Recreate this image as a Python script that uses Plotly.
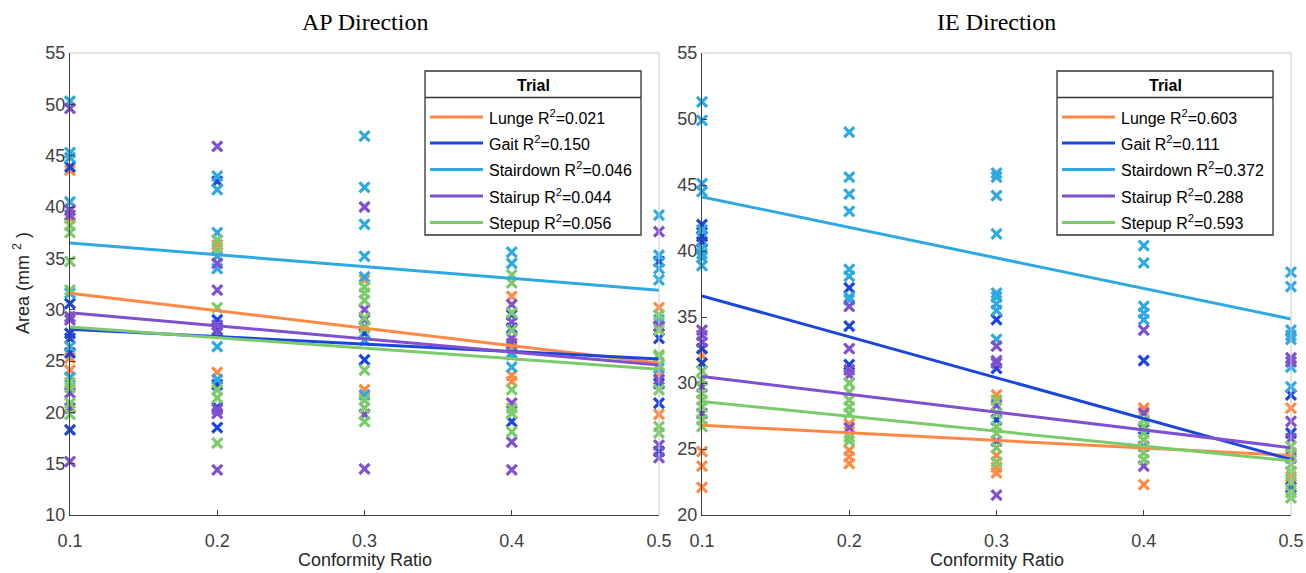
import plotly.graph_objects as go

W, H = 1306, 573

conformity = [0.1, 0.2, 0.3, 0.4, 0.5]
trials = ["Lunge", "Gait", "Stairdown", "Stairup", "Stepup"]
colors = ["#FF8A45", "#1B46DC", "#2EA9E2", "#7F50D0", "#7CCB6B"]

# AP direction: points per conformity level (0.1 .. 0.5)
ap_lunge = [[43.6, 38.9, 25.3, 24.1], [36.3, 23.9], [32.9, 22.2], [31.3, 26.2, 23.6, 23.0], [30.2, 23.8, 19.8]]
ap_gait = [[43.9, 30.6, 27.7, 27.2, 25.8, 18.3], [42.5, 29.0, 28.0, 22.7, 20.5, 18.5], [27.7, 25.1],
           [29.5, 28.2, 19.1], [34.7, 28.4, 27.2, 22.8, 20.9, 16.2]]
ap_stairdown = [[50.3, 45.3, 44.8, 40.5, 31.6, 26.4, 23.4], [43.0, 41.7, 37.5, 35.2, 34.0, 26.4, 23.2],
                [46.9, 41.9, 38.3, 35.2, 33.2, 27.0, 21.7], [35.6, 34.5, 25.8, 25.6, 24.4],
                [39.2, 35.3, 34.0, 32.9, 29.0, 24.3]]
ap_stairup = [[49.6, 39.7, 39.2, 29.3, 29.0, 21.9, 20.4, 15.2], [45.9, 34.5, 31.9, 28.5, 27.8, 20.3, 19.9, 14.4],
              [40.0, 30.0, 29.0, 28.3, 19.8, 14.5], [30.5, 28.8, 27.2, 26.7, 20.9, 17.1, 14.4],
              [37.6, 28.4, 23.2, 16.8, 15.6]]
ap_stepup = [[38.2, 37.5, 34.7, 31.9, 22.9, 22.4, 20.9, 19.8], [36.8, 35.8, 30.2, 22.2, 21.4, 17.0],
             [32.2, 31.6, 30.9, 29.2, 28.2, 24.1, 21.2, 20.4, 19.1], [33.4, 32.6, 29.7, 28.0, 22.2, 20.4, 19.9, 18.1],
             [29.5, 28.0, 25.6, 25.4, 24.6, 22.2, 18.6, 18.0]]
ap_fit_start = [31.6, 28.1, 36.5, 29.7, 28.3]
ap_fit_end = [24.8, 25.2, 31.9, 24.6, 24.2]
ap_r2 = ["0.021", "0.150", "0.046", "0.044", "0.056"]

# IE direction
ie_lunge = [[32.1, 24.8, 23.7, 22.1], [26.9, 24.9, 24.4, 23.9], [29.1, 24.5, 23.6, 23.2], [28.1, 27.8, 22.3],
            [28.1, 24.5, 22.9]]
ie_gait = [[42.0, 41.1, 40.7, 32.6, 31.5], [37.2, 34.3, 31.4], [34.8, 31.1, 27.2], [31.7, 26.5], [29.1, 26.2, 22.1]]
ie_stairdown = [[51.3, 49.9, 45.1, 44.5, 41.6, 40.2, 39.8, 39.5, 38.9], [49.0, 45.6, 44.3, 43.0, 38.6, 38.1, 36.5, 36.3],
                [45.9, 45.6, 44.2, 41.3, 36.8, 36.5, 36.0, 35.5, 33.3], [40.4, 39.1, 35.8, 35.3, 34.8],
                [38.4, 37.3, 34.0, 33.6, 33.3, 31.2, 29.7]]
ie_stairup = [[34.0, 33.6, 33.1, 29.7, 27.7], [35.8, 32.6, 31.0, 30.6, 26.6], [32.8, 31.7, 31.5, 28.3, 25.6, 21.5],
              [34.0, 27.7, 25.2, 23.7], [31.9, 31.6, 27.1, 25.8, 24.3]]
ie_stepup = [[30.9, 30.2, 29.2, 28.7, 28.2, 27.2, 26.7], [30.0, 29.3, 28.7, 28.2, 27.7, 25.9, 25.6],
             [28.7, 27.7, 26.7, 26.2, 25.1, 24.0], [27.2, 26.7, 26.2, 25.7, 24.7, 24.2],
             [25.2, 24.7, 23.8, 23.3, 22.5, 21.7, 21.3]]
ie_fit_start = [26.8, 36.6, 44.1, 30.5, 28.6]
ie_fit_end = [24.5, 24.2, 34.85, 25.1, 24.1]
ie_r2 = ["0.603", "0.111", "0.372", "0.288", "0.593"]

panels = [
    dict(title="AP Direction", data=[ap_lunge, ap_gait, ap_stairdown, ap_stairup, ap_stepup],
         fs=ap_fit_start, fe=ap_fit_end, r2=ap_r2, yr=[10, 55], px=(70, 659), xa="x", ya="y", leg=425),
    dict(title="IE Direction", data=[ie_lunge, ie_gait, ie_stairdown, ie_stairup, ie_stepup],
         fs=ie_fit_start, fe=ie_fit_end, r2=ie_r2, yr=[20, 55], px=(702, 1291), xa="x2", ya="y2", leg=1057),
]

def fx(p):
    return p / W

def fy(p):
    return 1 - p / H

fig = go.Figure()
PT, PB = 53, 515
shapes, annots = [], []
axis_col = "#404040"
font_sans = "Liberation Sans, Arial, sans-serif"

for k, pn in enumerate(panels):
    for t in range(5):
        xs, ys = [], []
        for i, c in enumerate(conformity):
            for v in pn["data"][t][i]:
                xs.append(c)
                ys.append(v)
        fig.add_trace(go.Scatter(x=xs, y=ys, mode="markers", xaxis=pn["xa"], yaxis=pn["ya"],
                                 marker=dict(symbol="x-thin", size=10, line=dict(width=3.2, color=colors[t]),
                                             color=colors[t]),
                                 cliponaxis=False, showlegend=False, hoverinfo="skip"))
    for t in range(5):
        fig.add_trace(go.Scatter(x=[conformity[0], conformity[-1]], y=[pn["fs"][t], pn["fe"][t]], mode="lines",
                                 xaxis=pn["xa"], yaxis=pn["ya"], line=dict(color=colors[t], width=3),
                                 showlegend=False, hoverinfo="skip"))
    x0, x1 = pn["px"]
    # light box top/right
    shapes.append(dict(type="line", xref="paper", yref="paper", x0=fx(x0), x1=fx(x1), y0=fy(PT), y1=fy(PT),
                       line=dict(color="#C8C8C8", width=1)))
    shapes.append(dict(type="line", xref="paper", yref="paper", x0=fx(x1), x1=fx(x1), y0=fy(PT), y1=fy(PB),
                       line=dict(color="#C8C8C8", width=1)))
    # title and axis label
    annots.append(dict(text=pn["title"], xref="paper", yref="paper", x=fx((x0 + x1) / 2), y=fy(22),
                       showarrow=False, xanchor="center", yanchor="middle",
                       font=dict(family="Liberation Serif, Times New Roman, serif", size=24, color="#000000")))
    annots.append(dict(text="Conformity Ratio", xref="paper", yref="paper", x=fx((x0 + x1) / 2), y=fy(560),
                       showarrow=False, xanchor="center", yanchor="middle",
                       font=dict(family=font_sans, size=18, color="#262626")))
    # legend
    L = pn["leg"]
    R = L + 216
    shapes.append(dict(type="rect", xref="paper", yref="paper", x0=fx(L), x1=fx(R), y0=fy(71), y1=fy(235),
                       line=dict(color="#333333", width=1.3), fillcolor="white", layer="above"))
    shapes.append(dict(type="line", xref="paper", yref="paper", x0=fx(L), x1=fx(R), y0=fy(97.5), y1=fy(97.5),
                       line=dict(color="#333333", width=1.3), layer="above"))
    annots.append(dict(text="<b>Trial</b>", xref="paper", yref="paper", x=fx((L + R) / 2), y=fy(85),
                       showarrow=False, xanchor="center", yanchor="middle",
                       font=dict(family=font_sans, size=16, color="#000000")))
    ys_leg = [117, 143, 169.5, 196, 222.5]
    for t in range(5):
        shapes.append(dict(type="line", xref="paper", yref="paper", x0=fx(L + 5), x1=fx(L + 58),
                           y0=fy(ys_leg[t]), y1=fy(ys_leg[t]), line=dict(color=colors[t], width=3), layer="above"))
        annots.append(dict(text=f"{trials[t]} R<sup>2</sup>=" + pn["r2"][t], xref="paper", yref="paper",
                           x=fx(L + 62), y=fy(ys_leg[t]), showarrow=False, xanchor="left", yanchor="middle",
                           font=dict(family=font_sans, size=16, color="#000000")))

annots.append(dict(text="Area (mm <sup>2</sup> )", xref="paper", yref="paper", x=fx(22), y=fy(283),
                   showarrow=False, textangle=-90, xanchor="center", yanchor="middle",
                   font=dict(family=font_sans, size=18, color="#262626")))

def xaxis(pxr):
    return dict(domain=[fx(pxr[0]), fx(pxr[1])], range=[0.1, 0.5], tickvals=conformity,
                ticktext=[str(c) for c in conformity], ticks="inside", ticklen=5, tickcolor=axis_col,
                showline=True, linecolor=axis_col, linewidth=1, showgrid=False, zeroline=False,
                ticklabelstandoff=9,
                tickfont=dict(family=font_sans, size=18, color=axis_col), fixedrange=True, automargin=False)

def yaxis(yr, anchor):
    return dict(domain=[fy(PB), fy(PT)], range=yr, dtick=5, ticks="inside", ticklen=5, tickcolor=axis_col,
                showline=True, linecolor=axis_col, linewidth=1, showgrid=False, zeroline=False, anchor=anchor,
                tickfont=dict(family=font_sans, size=18, color=axis_col), fixedrange=True, automargin=False)

fig.update_layout(
    width=W, height=H, margin=dict(l=0, r=0, t=0, b=0, autoexpand=False),
    paper_bgcolor="white", plot_bgcolor="white", showlegend=False,
    xaxis=dict(xaxis(panels[0]["px"]), anchor="y"),
    yaxis=yaxis(panels[0]["yr"], "x"),
    xaxis2=dict(xaxis(panels[1]["px"]), anchor="y2"),
    yaxis2=yaxis(panels[1]["yr"], "x2"),
    shapes=shapes, annotations=annots,
)

fig.write_html("out.html")
